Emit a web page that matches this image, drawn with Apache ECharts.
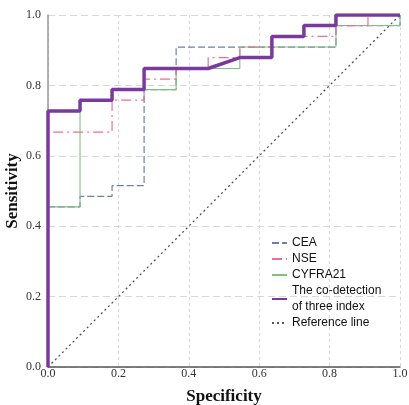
<!DOCTYPE html>
<html>
<head>
<meta charset="utf-8">
<script src="https://cdn.jsdelivr.net/npm/echarts@6/dist/echarts.min.js"></script>
<style>
  html, body { margin: 0; padding: 0; background: #fff; }
  #chart-container { width: 409px; height: 405px; }
</style>
</head>
<body>
<div id="chart-container"></div>
<script>
// ROC curve vertices (specificity axis as drawn, sensitivity)
const ceaX = [0, 0, 0.091, 0.091, 0.182, 0.182, 0.273, 0.273, 0.364, 0.364, 0.818, 0.818, 1, 1]
const ceaY = [0, 0.455, 0.455, 0.485, 0.485, 0.515, 0.515, 0.788, 0.788, 0.909, 0.909, 0.970, 0.970, 1]

const nseX = [0, 0, 0.182, 0.182, 0.273, 0.273, 0.364, 0.364, 0.455, 0.455, 0.545, 0.545, 0.636, 0.636, 0.818, 0.818, 0.909, 0.909, 1]
const nseY = [0, 0.667, 0.667, 0.758, 0.758, 0.818, 0.818, 0.848, 0.848, 0.879, 0.879, 0.909, 0.909, 0.939, 0.939, 0.970, 0.970, 1, 1]

const cyfraX = [0, 0, 0.091, 0.091, 0.182, 0.182, 0.364, 0.364, 0.545, 0.545, 0.818, 0.818, 1, 1]
const cyfraY = [0, 0.455, 0.455, 0.758, 0.758, 0.788, 0.788, 0.848, 0.848, 0.909, 0.909, 0.970, 0.970, 1]

const comboX = [0, 0, 0.091, 0.091, 0.182, 0.182, 0.273, 0.273, 0.455, 0.545, 0.636, 0.636, 0.727, 0.727, 0.818, 0.818, 1]
const comboY = [0, 0.727, 0.727, 0.758, 0.758, 0.788, 0.788, 0.848, 0.848, 0.879, 0.879, 0.939, 0.939, 0.970, 0.970, 1, 1]

const refX = [0, 1]
const refY = [0, 1]

const seriesNames = ['CEA', 'NSE', 'CYFRA21', 'The co-detection\nof three index', 'Reference line']

const pairs = (xs, ys) => xs.map((x, i) => [x, ys[i]])

const serif = '"Liberation Serif", "DejaVu Serif", serif'
const sans = '"Liberation Sans", Arial, sans-serif'

const myChart = echarts.init(document.getElementById('chart-container'))
const option = {
    animation: false,
    grid: { left: 48, right: 9, top: 15, bottom: 38, containLabel: false, outerBoundsMode: 'none' },
    legend: {
        orient: 'vertical',
        left: 266,
        top: 230,
        itemWidth: 15,
        itemHeight: 10,
        itemGap: 0,
        itemStyle: { opacity: 0 },
        textStyle: { fontFamily: sans, fontSize: 12, color: '#111', lineHeight: 16 },
        data: [seriesNames[0], seriesNames[1], seriesNames[2], seriesNames[3], seriesNames[4]]
    },
    xAxis: {
        type: 'value', min: 0, max: 1, interval: 0.2,
        name: 'Specificity', nameLocation: 'middle', nameGap: 21, nameMoveOverlap: false,
        nameTextStyle: { fontFamily: serif, fontSize: 17, fontWeight: 'bold', color: '#111' },
        axisLine: { show: true, lineStyle: { color: '#555', width: 1.5 } },
        axisTick: { show: false },
        axisLabel: { fontFamily: serif, fontSize: 12, color: '#333', margin: 1,
            formatter: v => v.toFixed(1) },
        splitLine: { show: true, lineStyle: { color: '#d8d8d8', type: [3, 3] } }
    },
    yAxis: {
        type: 'value', min: 0, max: 1, interval: 0.2,
        name: 'Sensitivity', nameLocation: 'middle', nameGap: 27, nameMoveOverlap: false,
        nameTextStyle: { fontFamily: serif, fontSize: 17, fontWeight: 'bold', color: '#111' },
        axisLine: { show: true, lineStyle: { color: '#999', width: 1.5 } },
        axisTick: { show: false },
        axisLabel: { fontFamily: serif, fontSize: 12, color: '#333', margin: 7,
            formatter: v => v.toFixed(1) },
        splitLine: { show: true, lineStyle: { color: '#d8d8d8', type: [7, 4] } }
    },
    series: [
        {
            name: seriesNames[4], type: 'line', symbol: 'none', z: 1,
            data: pairs(refX, refY),
            lineStyle: { color: '#555', width: 1.3, type: [2, 3] },
            itemStyle: { color: '#555' }
        },
        {
            name: seriesNames[0], type: 'line', symbol: 'none', z: 2,
            data: pairs(ceaX, ceaY),
            lineStyle: { color: '#6b7fb3', width: 1.2, type: [7, 3] },
            itemStyle: { color: '#6b7fb3' }
        },
        {
            name: seriesNames[1], type: 'line', symbol: 'none', z: 3,
            data: pairs(nseX, nseY),
            lineStyle: { color: '#e8728e', width: 1.2, type: [10, 4, 2, 4] },
            itemStyle: { color: '#e8728e' }
        },
        {
            name: seriesNames[2], type: 'line', symbol: 'none', z: 2,
            data: pairs(cyfraX, cyfraY),
            lineStyle: { color: '#80c280', width: 1.1 },
            itemStyle: { color: '#80c280' }
        },
        {
            name: seriesNames[3], type: 'line', symbol: 'none', z: 5,
            data: pairs(comboX, comboY),
            lineStyle: { color: '#7a3a9d', width: 3.5 },
            itemStyle: { color: '#7a3a9d' }
        }
    ]
}

option && myChart.setOption(option)
</script>
</body>
</html>
